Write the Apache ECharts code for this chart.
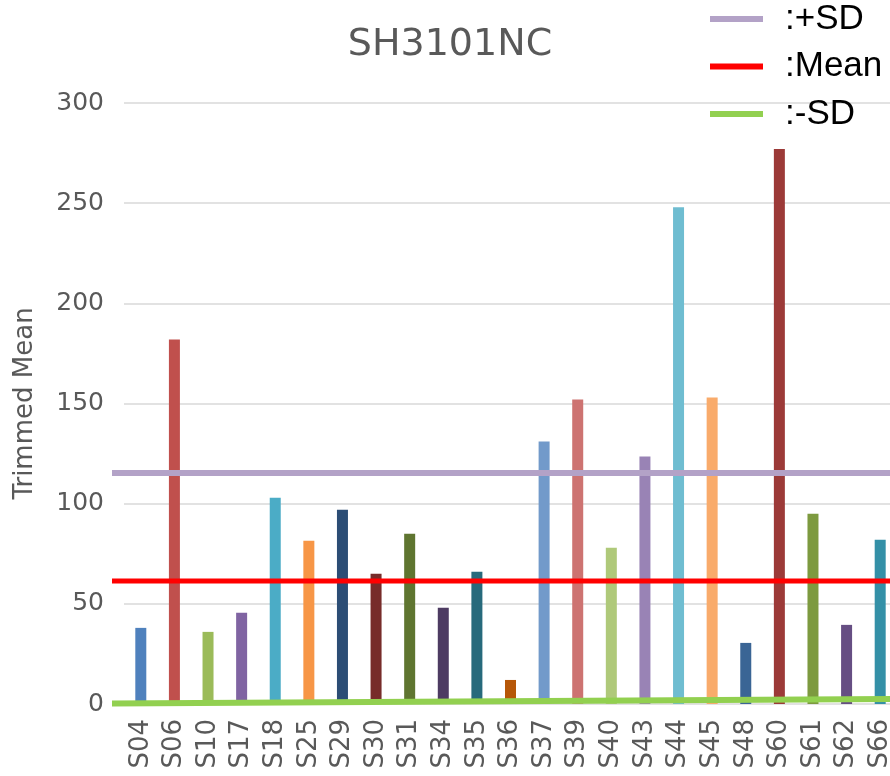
<!DOCTYPE html>
<html>
<head>
<meta charset="utf-8">
<script src="https://cdn.jsdelivr.net/npm/echarts@6/dist/echarts.min.js"></script>
<style>html,body{margin:0;padding:0;background:#fff}#c{width:890px;height:776px}</style>
</head>
<body>
<div id="c"></div>
<script>
var categories = ['S04','S06','S10','S17','S18','S25','S29','S30','S31','S34','S35','S36','S37','S39','S40','S43','S44','S45','S48','S60','S61','S62','S66'];
var values = [38, 182, 36, 45.5, 103, 81.5, 97, 65, 85, 48, 66, 12, 131, 152, 78, 123.5, 248, 153, 30.5, 277, 95, 39.5, 82];
var barColors = ['#4F81BD','#C0504D','#9BBB59','#8064A2','#4BACC6','#F79646','#2C4D75','#772C2A','#5F7530','#4D3B62','#276A7C','#B65708','#729ACA','#CD7371','#AFC97A','#9983B5','#6FBDD1','#F9AB6B','#3A6595','#9C3A38','#7D9A3F','#664E83','#3490A7'];
var yTicks = [0, 50, 100, 150, 200, 250, 300];
var plusSD = [115.3, 115.3];
var meanLine = [61.4, 61.4];
var minusSD = [0.2, 2.5];
var lineNames = [':+SD', ':Mean', ':-SD'];

var chart = echarts.init(document.getElementById('c'), null, {renderer: 'canvas'});
var labelFont = 'DejaVu Sans';
var grey = '#595959';
var option = {
  animation: false,
  backgroundColor: '#ffffff',
  title: {
    text: 'SH3101NC',
    left: 450, top: 26, textAlign: 'center', padding: 0,
    textStyle: {fontFamily: labelFont, fontSize: 38, fontWeight: 'normal', color: grey}
  },
  legend: {
    data: lineNames,
    orient: 'vertical',
    left: 710, top: -1,
    icon: 'rect',
    itemWidth: 53, itemHeight: 6,
    itemGap: 7.5,
    padding: 0,
    selectedMode: false,
    textStyle: {fontFamily: 'Liberation Sans', fontSize: 35, color: '#000', lineHeight: 40, padding: [0, 0, 0, 17]}
  },
  grid: [
    {left: 124, right: -7, top: 103, bottom: 72, outerBoundsMode: 'none', containLabel: false},
    {left: 112, right: -7, top: 103, bottom: 72, outerBoundsMode: 'none', containLabel: false}
  ],
  xAxis: [
    {
      type: 'category', gridIndex: 0, data: categories, boundaryGap: true,
      axisLine: {show: false}, axisTick: {show: false},
      axisLabel: {rotate: 90, margin: 15, fontFamily: labelFont, fontSize: 26, color: grey, interval: 0}
    },
    {type: 'value', gridIndex: 1, min: 0, max: 1, show: false}
  ],
  yAxis: [
    {
      type: 'value', gridIndex: 0, min: yTicks[0], max: yTicks[yTicks.length - 1], interval: yTicks[1] - yTicks[0],
      name: 'Trimmed Mean', nameLocation: 'middle', nameGap: 86,
      nameTextStyle: {fontFamily: labelFont, fontSize: 26, color: grey},
      axisLine: {show: false}, axisTick: {show: false},
      axisLabel: {margin: 20, fontFamily: labelFont, fontSize: 25, color: grey},
      splitLine: {lineStyle: {color: '#d9d9d9', width: 1.5}}
    },
    {type: 'value', gridIndex: 1, min: yTicks[0], max: yTicks[yTicks.length - 1], show: false}
  ],
  series: [
    {
      name: 'values', type: 'bar', xAxisIndex: 0, yAxisIndex: 0, barWidth: 11,
      data: values.map(function (v, i) { return {value: v, itemStyle: {color: barColors[i]}}; })
    },
    {
      name: lineNames[0], type: 'line', xAxisIndex: 1, yAxisIndex: 1, symbol: 'none', color: '#B3A2C7',
      lineStyle: {color: '#B3A2C7', width: 6}, z: 5,
      data: plusSD.map(function (v, i) { return [i, v]; })
    },
    {
      name: lineNames[1], type: 'line', xAxisIndex: 1, yAxisIndex: 1, symbol: 'none', color: '#FF0000',
      lineStyle: {color: '#FF0000', width: 5}, z: 5,
      data: meanLine.map(function (v, i) { return [i, v]; })
    },
    {
      name: lineNames[2], type: 'line', xAxisIndex: 1, yAxisIndex: 1, symbol: 'none', color: '#92D050',
      lineStyle: {color: '#92D050', width: 6}, z: 5,
      data: minusSD.map(function (v, i) { return [i, v]; })
    }
  ]
};
chart.setOption(option);
</script>
</body>
</html>
